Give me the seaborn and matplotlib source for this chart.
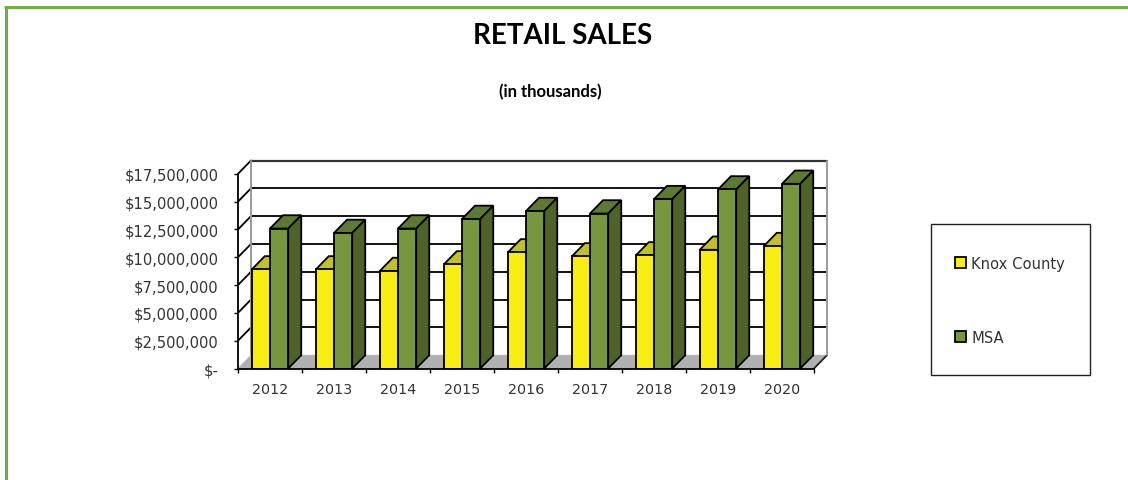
import matplotlib
matplotlib.use('Agg')
import matplotlib.pyplot as plt
from matplotlib.lines import Line2D
from matplotlib.patches import Patch, Polygon, Rectangle
import pandas as pd
import seaborn as sns

years = ['2012', '2013', '2014', '2015', '2016', '2017', '2018', '2019', '2020']
knox_county = [8900000, 8900000, 8760000, 9350000, 10430000, 10070000, 10160000, 10670000, 11000000]
msa = [12580000, 12180000, 12580000, 13440000, 14150000, 13930000, 15220000, 16090000, 16600000]
y_ticks = [0, 2500000, 5000000, 7500000, 10000000, 12500000, 15000000, 17500000]
y_labels = ['$-', '$2,500,000', '$5,000,000', '$7,500,000', '$10,000,000',
            '$12,500,000', '$15,000,000', '$17,500,000']

W, H = 1128, 481
GREEN = '#70AD47'
TEXT = '#333333'
LW = 1.3
colors = {'Knox County': ('#F7EC13', '#C2C02A', '#A8A51E'),
          'MSA': ('#76963F', '#5C7A32', '#4F6228')}

sns.set_style('white')
plt.rcParams['font.family'] = ['DejaVu Sans']

df = pd.DataFrame({'year': years * 2,
                   'sales': knox_county + msa,
                   'series': ['Knox County'] * 9 + ['MSA'] * 9})

fig = plt.figure(figsize=(W / 100, H / 100), dpi=100, facecolor='white')
ax = fig.add_axes([238 / W, (H - 369.5) / H, 576 / W, 194.7 / H])
ax.patch.set_alpha(0)

palette = {k: v[0] for k, v in colors.items()}
sns.barplot(data=df, x='year', y='sales', hue='series', palette=palette, width=0.57, gap=0,
            saturation=1, edgecolor='black', linewidth=LW, legend=False, zorder=4, ax=ax)
ax.set_xlim(-0.5, 8.5)
ax.set_ylim(0, 17500000)

# fake 3D depth, in data units (13px / 13.3px)
dx = 13 / 64
dy = 13.3 * 17500000 / 194.7

# top and side of every bar
for name, container in zip(colors, ax.containers):
    for bar in container:
        x0, w, h = bar.get_x(), bar.get_width(), bar.get_height()
        x1 = x0 + w
        top = [(x0, h), (x1, h), (x1 + dx, h + dy), (x0 + dx, h + dy)]
        side = [(x1, 0), (x1 + dx, dy), (x1 + dx, h + dy), (x1, h)]
        ax.add_patch(Polygon(top, fc=colors[name][1], ec='black', lw=LW, zorder=3, clip_on=False))
        ax.add_patch(Polygon(side, fc=colors[name][2], ec='black', lw=LW, zorder=3, clip_on=False))

# floor
floor = [(-0.5, 0), (8.5, 0), (8.5 + dx, dy), (-0.5 + dx, dy)]
ax.add_patch(Polygon(floor, fc='#B0B0B0', ec='#B0B0B0', lw=0.5, zorder=1, clip_on=False))

# back wall gridlines and left wall diagonals
for v in y_ticks[1:]:
    ax.plot([-0.5 + dx, 8.5 + dx], [v + dy, v + dy], color='black', lw=LW, zorder=2, clip_on=False)
    ax.plot([-0.5, -0.5 + dx], [v, v + dy], color='black', lw=LW, zorder=2, clip_on=False)
ax.plot([-0.5 + dx, 8.5 + dx], [17500000 + dy, 17500000 + dy], color='#333333', lw=1.6, zorder=2, clip_on=False)
ax.plot([8.5, 8.5 + dx], [0, dy], color='#222222', lw=LW, zorder=2, clip_on=False)
ax.plot([-0.5 + dx, -0.5 + dx], [dy, 17500000 + dy], color='#9A9A9A', lw=1.4, zorder=2, clip_on=False)
ax.plot([8.5 + dx, 8.5 + dx], [dy, 17500000 + dy], color='#9A9A9A', lw=1.4, zorder=2, clip_on=False)

for s in ['top', 'right']:
    ax.spines[s].set_visible(False)
for s in ['left', 'bottom']:
    ax.spines[s].set_color('black')
    ax.spines[s].set_linewidth(LW)
    ax.spines[s].set_zorder(5)

ax.set_xlabel('')
ax.set_ylabel('')
ax.set_yticks(y_ticks)
ax.set_yticklabels(y_labels)
ax.set_xticks([i - 0.5 for i in range(10)], minor=True)
ax.tick_params(axis='x', which='minor', bottom=True, length=3, width=1, color='black')
ax.tick_params(axis='x', which='major', bottom=False, length=0, pad=9.5, labelsize=10.3, labelcolor=TEXT)
ax.tick_params(axis='y', left=True, length=3, width=1, color='black', pad=11, labelsize=10.6, labelcolor=TEXT)

# titles
fig.text(563 / W, 1 - 35.5 / H, 'RETAIL SALES', ha='center', va='center', fontsize=20,
         fontweight='bold', family='Lato', color='black')
fig.text(550.5 / W, 1 - 92 / H, '(in thousands)', ha='center', va='center', fontsize=12,
         fontweight='bold', family='Lato', color='black')

# legend box
fig.add_artist(Rectangle((930.5 / W, 1 - 376 / H), 159 / W, 151 / H, transform=fig.transFigure,
                         fc='white', ec='#222222', lw=1, zorder=1))
handles = [Patch(fc=colors[k][0], ec='black', lw=LW) for k in colors]
leg = fig.legend(handles, list(colors), loc='upper left', bbox_to_anchor=(955 / W, 1 - 256.5 / H),
                 frameon=False, borderpad=0, borderaxespad=0, handlelength=0.72, handleheight=0.72,
                 handletextpad=0.4, labelspacing=4.03, fontsize=10.6, labelcolor=TEXT)
leg.set_zorder(2)

# green border
fig.add_artist(Line2D([5.5 / W, 5.5 / W], [0, 1 - 7.5 / H], color=GREEN, lw=2.2, solid_capstyle='butt'))
fig.add_artist(Line2D([4 / W, 1], [1 - 7.5 / H, 1 - 7.5 / H], color=GREEN, lw=2.2, solid_capstyle='butt'))

fig.savefig('out.png', dpi=100)
